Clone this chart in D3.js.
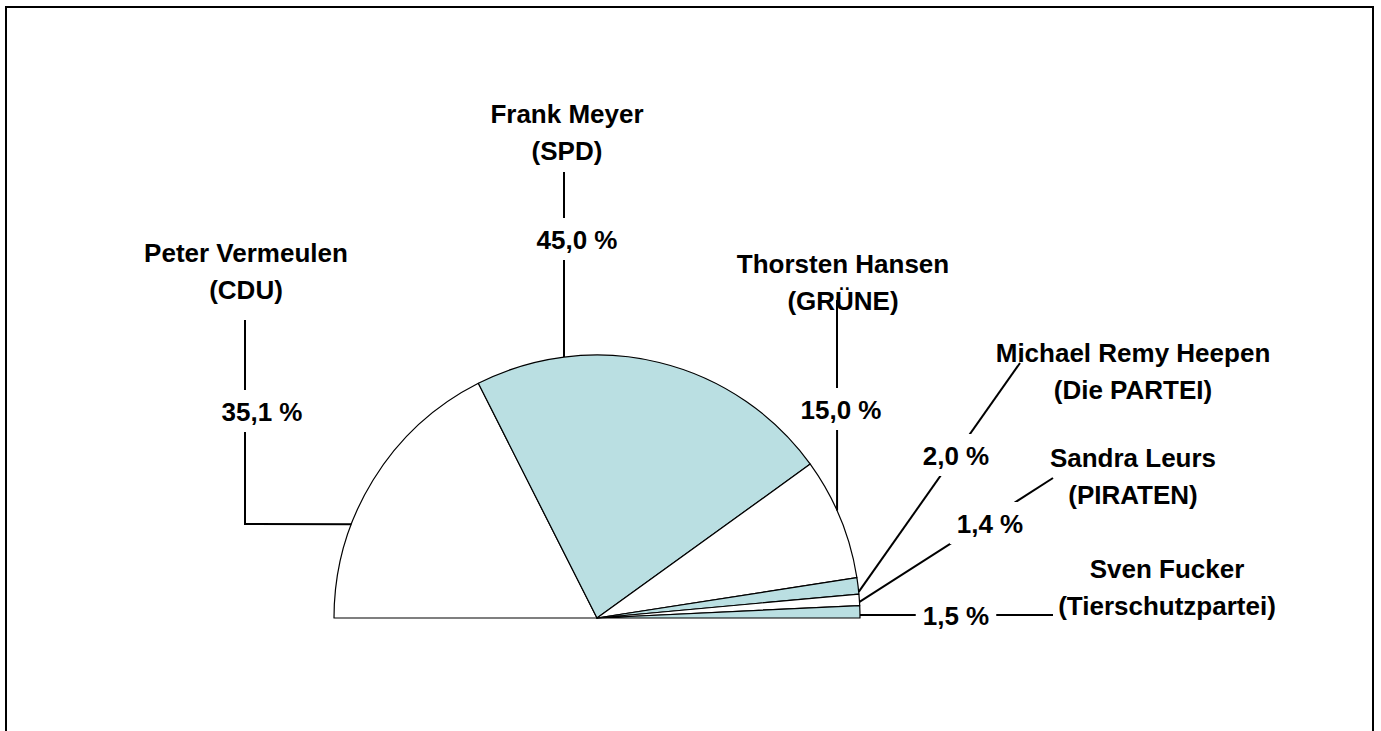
<!DOCTYPE html>
<html>
<head>
    <meta charset="utf-8">
    <script src="https://d3js.org/d3.v7.min.js"></script>
    <style>
        body { margin: 0; background: #fff; }
        text { font-family: "Liberation Sans", Arial, sans-serif; font-weight: bold; font-size: 26px; fill: #000; }
    </style>
</head>
<body>
    <script>

// Data
var candidates = ["Peter Vermeulen", "Frank Meyer", "Thorsten Hansen", "Michael Remy Heepen", "Sandra Leurs", "Sven Fucker"];
var parties = ["(CDU)", "(SPD)", "(GRÜNE)", "(Die PARTEI)", "(PIRATEN)", "(Tierschutzpartei)"];
var shares = [35.1, 45.0, 15.0, 2.0, 1.4, 1.5];
var fills = ["#ffffff", "#badfe2", "#ffffff", "#badfe2", "#ffffff", "#badfe2"];

// Label layout (where Excel placed the labels and leader lines)
var layout = [
    { anchor: -69.1, via: [[245, 524], [245, 320]], pct: [262, 421], name: [246, 262] },
    { anchor: -7.2,  via: [[564, 172]],             pct: [577, 249], name: [567, 123] },
    { anchor: 65.9,  via: [[837, 300]],             pct: [841, 419], name: [843, 273] },
    { anchor: 84.3,  via: [[1020, 363]],            pct: [956, 465], name: [1133, 362] },
    { anchor: 86.5,  via: [[1053, 478]],            pct: [990, 533], name: [1133, 467] },
    { anchor: 89.35, via: [[1053, 615]],            pct: [956, 625], name: [1167, 578] }
];

var width = 1381, height = 731;
var cx = 597, cy = 618, radius = 263;
var lineGap = 37;

var svg = d3.select("body").append("svg")
    .attr("width", width)
    .attr("height", height);

// chart border (bottom edge runs off the picture)
svg.append("rect")
    .attr("x", 6).attr("y", 7)
    .attr("width", 1367).attr("height", 760)
    .attr("fill", "none")
    .attr("stroke", "#000")
    .attr("stroke-width", 2);

// half pie
var pie = d3.pie()
    .sort(null)
    .startAngle(-Math.PI / 2)
    .endAngle(Math.PI / 2)
    .value(function(d) { return d; });

var arc = d3.arc().innerRadius(0).outerRadius(radius);

var g = svg.append("g").attr("transform", "translate(" + cx + "," + cy + ")");

g.selectAll("path.slice")
    .data(pie(shares))
    .enter().append("path")
    .attr("class", "slice")
    .attr("d", arc)
    .attr("fill", function(d, i) { return fills[i]; })
    .attr("stroke", "#000")
    .attr("stroke-width", 1.2)
    .attr("stroke-linejoin", "round");

// leader lines
var line = d3.line();
layout.forEach(function(l) {
    var a = l.anchor * Math.PI / 180;
    var pts = [[cx + radius * Math.sin(a), cy - radius * Math.cos(a)]].concat(l.via);
    svg.append("path")
        .attr("d", line(pts))
        .attr("fill", "none")
        .attr("stroke", "#000")
        .attr("stroke-width", 2);
});

// percentage labels with white box over the leader
var pctFormat = function(v) { return d3.format(".1f")(v).replace(".", ",") + " %"; };
shares.forEach(function(v, i) {
    var l = layout[i];
    var t = svg.append("text")
        .attr("x", l.pct[0])
        .attr("y", l.pct[1])
        .attr("text-anchor", "middle")
        .text(pctFormat(v));
    var w = t.node().getComputedTextLength();
    svg.insert("rect", function() { return t.node(); })
        .attr("x", l.pct[0] - w / 2 - 7)
        .attr("y", l.pct[1] - 31)
        .attr("width", w + 14)
        .attr("height", 42)
        .attr("fill", "#fff");
});

// candidate names
candidates.forEach(function(c, i) {
    var l = layout[i];
    var t = svg.append("text")
        .attr("x", l.name[0])
        .attr("y", l.name[1])
        .attr("text-anchor", "middle");
    t.append("tspan").attr("x", l.name[0]).text(c);
    t.append("tspan").attr("x", l.name[0]).attr("dy", lineGap).text(parties[i]);
});

    </script>
</body>
</html>
